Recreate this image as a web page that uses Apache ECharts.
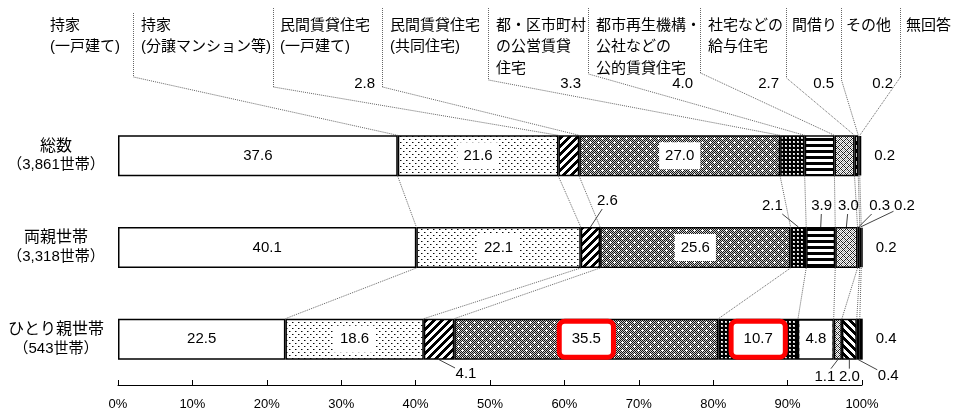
<!DOCTYPE html>
<html>
<head>
<meta charset="utf-8">
<script src="https://cdn.jsdelivr.net/npm/echarts@6/dist/echarts.min.js"></script>
<style>
  html, body { margin: 0; padding: 0; background: #fff; }
  #chart { width: 953px; height: 411px; }
</style>
</head>
<body>
<div id="chart"></div>
<script>
// Housing types, in stacking order (left to right)
const housingTypes = [
  '持家\n(一戸建て)', '持家\n(分譲マンション等)', '民間賃貸住宅\n(一戸建て)', '民間賃貸住宅\n(共同住宅)',
  '都・区市町村\nの公営賃貸\n住宅', '都市再生機構・\n公社などの\n公的賃貸住宅', '社宅などの\n給与住宅',
  '間借り', 'その他', '無回答'
];
const householdGroups = ['総数', '両親世帯', 'ひとり親世帯'];
const householdCounts = ['3,861世帯', '3,318世帯', '543世帯'];

// Share of households (%) by housing type
const totalShares        = [37.6, 21.6, 2.8, 27.0, 3.3, 4.0, 2.7, 0.5, 0.2, 0.2];
const twoParentShares    = [40.1, 22.1, 2.6, 25.6, 2.1, 3.9, 3.0, 0.3, 0.2, 0.2];
const singleParentShares = [22.5, 18.6, 4.1, 35.5, 10.7, 4.8, 1.1, 2.0, 0.4, 0.4];

// [group, type] values framed in red
const highlightedCells = [[2, 3], [2, 4]];

const rowsData = [totalShares, twoParentShares, singleParentShares];
const FONT = "'Liberation Sans','Noto Sans CJK JP',sans-serif";
const BAR_W = 41;

// ---- fill patterns (pixel tiles) ----
function tile(w, h, fn) {
  const c = document.createElement('canvas');
  c.width = w; c.height = h;
  const ctx = c.getContext('2d');
  const img = ctx.createImageData(w, h);
  for (let y = 0; y < h; y++) {
    for (let x = 0; x < w; x++) {
      const v = fn(x, y);
      const i = (y * w + x) * 4;
      img.data[i] = img.data[i + 1] = img.data[i + 2] = v;
      img.data[i + 3] = 255;
    }
  }
  ctx.putImageData(img, 0, 0);
  return { image: c, repeat: 'repeat' };
}
const fills = [
  '#ffffff',
  // sparse staggered dots
  tile(6, 6, (x, y) => ((x === 1 && y === 1) || (x === 4 && y === 4)) ? 10
    : (((x === 2 && y === 1) || (x === 5 && y === 4)) ? 140 : 255)),
  // bold forward hatch
  tile(8, 8, (x, y) => ((x + y) % 8 < 4) ? 0 : 255),
  // grey stipple with white specks
  tile(8, 8, (x, y) => {
    const plus = (cx, cy) => Math.abs(x - cx) + Math.abs(y - cy) <= 1;
    if (plus(2, 2) || plus(6, 6)) return 255;
    return ((x + y) % 2 === 0) ? 20 : 200;
  }),
  // dark fine grid
  tile(4, 4, (x, y) => (x >= 1 && x <= 2 && y >= 1 && y <= 2) ? (x === 1 && y === 1 ? 255 : 200) : 0),
  // horizontal bars
  tile(1, 6, (x, y) => (y < 3) ? 0 : 255),
  // diamond lattice
  tile(6, 6, (x, y) => ((x + y) % 6 === 0 || (x - y + 6) % 6 === 0) ? 30 : ((x + y) % 2 === 0 ? 150 : 255)),
  // bold back hatch
  tile(8, 8, (x, y) => ((x - y + 8) % 8 < 4) ? 0 : 255),
  // fine stipple
  tile(2, 2, (x, y) => ((x + y) % 2 === 0) ? 60 : 255),
  '#000000'
];

function isHighlighted(row, type) {
  return highlightedCells.some(([r, t]) => r === row && t === type);
}

function itemLabel(row, type, v) {
  if (v < 4.5) return { show: false };
  const base = {
    show: true, position: 'inside', color: '#000', fontSize: 15, lineHeight: 15,
    fontFamily: FONT, formatter: (p) => Number(p.value).toFixed(1)
  };
  if (type === 0) return base;
  if (isHighlighted(row, type)) {
    return Object.assign(base, {
      backgroundColor: '#fff', borderColor: '#ff0000', borderWidth: 5, borderRadius: 3, padding: [8, 10]
    });
  }
  if (v < 6) return Object.assign(base, { backgroundColor: '#fff', padding: [11, 6] });
  return Object.assign(base, { backgroundColor: '#fff', padding: [6, 6] });
}

const chart = echarts.init(document.getElementById('chart'), null, { renderer: 'canvas' });

chart.setOption({
  animation: false,
  backgroundColor: '#fff',
  grid: { left: 118, right: 91, top: 110, bottom: 25, containLabel: false },
  xAxis: {
    type: 'value', min: 0, max: 100, interval: 10,
    axisLine: { show: true, lineStyle: { color: '#000', width: 1 } },
    axisTick: { show: true, inside: true, length: 5, lineStyle: { color: '#000' } },
    splitLine: { show: false },
    axisLabel: { formatter: '{value}%', color: '#000', fontSize: 13, fontFamily: FONT, margin: 13 }
  },
  yAxis: {
    type: 'category', inverse: true, data: householdGroups,
    axisLine: { show: false }, axisTick: { show: false },
    axisLabel: {
      margin: 62, align: 'center',
      formatter: (v, i) => '{a|' + v + '}\n{b|（' + householdCounts[i] + '）}',
      rich: {
        a: { fontSize: 16, lineHeight: 19, color: '#000', fontFamily: FONT, align: 'center' },
        b: { fontSize: 15, lineHeight: 19, color: '#000', fontFamily: FONT, align: 'center' }
      }
    }
  },
  series: housingTypes.map((name, t) => ({
    type: 'bar', name: name, stack: 'share', barWidth: BAR_W, clip: false,
    itemStyle: { color: fills[t], borderColor: '#000', borderWidth: 1.5 },
    emphasis: { disabled: true },
    label: t === housingTypes.length - 1
      ? { show: true, position: 'right', distance: 13, color: '#000', fontSize: 15, fontFamily: FONT,
          formatter: (p) => Number(p.value).toFixed(1) }
      : { show: false },
    data: rowsData.map((r, row) => {
      const item = { value: r[t] };
      if (t !== housingTypes.length - 1) item.label = itemLabel(row, t, r[t]);
      return item;
    })
  }))
});

// ---- annotation layer: header captions, leader lines, connectors ----
const cumulative = rowsData.map((r) => {
  let s = 0;
  return [0].concat(r.map((v) => (s = Math.round((s + v) * 10) / 10)));
});
const toPx = (v, row) => chart.convertToPixel({ gridIndex: 0 }, [v, row]);
const rowCenter = (row) => toPx(0, row)[1];
const barTop = (row) => rowCenter(row) - BAR_W / 2;
const barBottom = (row) => rowCenter(row) + BAR_W / 2;

// Header layout
const headerTextX = [50, 141, 280, 390, 496, 596, 708, 792, 846, 906];
const headerLineX = [null, 133, 273, 382, 488, 588, 700, 786, 841, 900];
const headerLineTop = [null, 13, 8, 8, 8, 8, 8, 8, 8, 8];
const headerLineBottom = [null, 77, 87, 87, 80, 74, 73, 78, 80, 77];

const dotted = { stroke: '#666', lineWidth: 1, lineDash: [1, 1] };
const graphics = [];

housingTypes.forEach((name, t) => {
  graphics.push({
    type: 'text', silent: true,
    style: { text: name, x: headerTextX[t], y: 15, fill: '#000', font: '15px ' + FONT,
             lineHeight: 21.5, align: 'left', verticalAlign: 'top' }
  });
  if (headerLineX[t] !== null) {
    const lx = headerLineX[t] + 0.5;
    const target = toPx(cumulative[0][t], 0)[0];
    graphics.push({ type: 'line', silent: true,
      shape: { x1: lx, y1: headerLineTop[t], x2: lx, y2: headerLineBottom[t] }, style: dotted });
    graphics.push({ type: 'line', silent: true,
      shape: { x1: lx, y1: headerLineBottom[t], x2: target, y2: barTop(0) }, style: dotted });
  }
  // values of the first group that are too narrow for an inside label sit under the caption
  const v = totalShares[t];
  if (v < 4.5 && t < housingTypes.length - 1) {
    graphics.push({ type: 'text', silent: true,
      style: { text: v.toFixed(1), x: headerLineX[t + 1] - 7, y: 84, fill: '#000', font: '15px ' + FONT,
               align: 'right', verticalAlign: 'middle' } });
  }
});

// Connectors between neighbouring bars at each segment boundary
for (let r = 0; r < rowsData.length - 1; r++) {
  for (let k = 1; k < housingTypes.length; k++) {
    graphics.push({ type: 'line', silent: true,
      shape: { x1: toPx(cumulative[r][k], r)[0], y1: barBottom(r),
               x2: toPx(cumulative[r + 1][k], r + 1)[0], y2: barTop(r + 1) },
      style: dotted });
  }
}

// Labels beside narrow segments (offsets from the segment edge midpoint)
const besideLabels = [
  { row: 1, type: 2, dx: 17, dy: -26 }, { row: 1, type: 4, dx: -26, dy: -21 },
  { row: 1, type: 5, dx: 1, dy: -21 },  { row: 1, type: 6, dx: 2, dy: -21 },
  { row: 1, type: 7, dx: 21, dy: -21 }, { row: 1, type: 8, dx: 44, dy: -21 },
  { row: 2, type: 2, dx: 27, dy: 14 },  { row: 2, type: 6, dx: -13, dy: 17 },
  { row: 2, type: 7, dx: 0, dy: 17 },   { row: 2, type: 8, dx: 30, dy: 16 }
];
besideLabels.forEach(({ row, type, dx, dy }) => {
  const x0 = toPx(cumulative[row][type], row)[0];
  const x1 = toPx(cumulative[row][type + 1], row)[0];
  const sx = (x0 + x1) / 2;
  const sy = dy < 0 ? barTop(row) : barBottom(row);
  const lx = sx + dx, ly = sy + dy;
  graphics.push({ type: 'text', silent: true,
    style: { text: rowsData[row][type].toFixed(1), x: lx, y: ly, fill: '#000', font: '15px ' + FONT,
             align: 'center', verticalAlign: 'middle' } });
  const vx = sx - lx, vy = sy - ly;
  const s = Math.min(vx !== 0 ? 11 / Math.abs(vx) : Infinity, vy !== 0 ? 8 / Math.abs(vy) : Infinity);
  graphics.push({ type: 'line', silent: true,
    shape: { x1: lx + vx * s, y1: ly + vy * s, x2: sx, y2: sy },
    style: { stroke: '#444', lineWidth: 1 } });
});

chart.setOption({ graphic: graphics });
</script>
</body>
</html>
